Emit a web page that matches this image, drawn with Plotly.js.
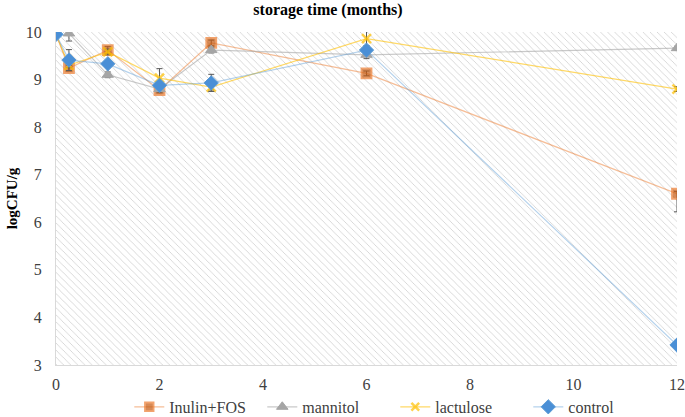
<!DOCTYPE html>
<html>
<head>
<meta charset="utf-8">
<script src="https://cdn.plot.ly/plotly-3.0.1.min.js"></script>
<style>html,body{margin:0;padding:0;background:#fff;}#chart{width:685px;height:417px;}</style>
</head>
<body>
<div id="chart"></div>
<script>
// Data (storage time in months, logCFU/g)
const monthsInulin   = [0, 0.25, 1, 2, 3, 6, 12];
const inulinFOS      = [9.95, 9.24, 9.62, 8.78, 9.77, 9.13, 6.6];
const inulinErrPlus  = [0, 0.06, 0.08, 0.06, 0.06, 0.05, 0.05];
const inulinErrMinus = [0, 0.06, 0.08, 0.06, 0.06, 0.05, 0.38];

const monthsMannitol = [0.25, 1, 2, 3, 6, 12];
const mannitol       = [9.97, 9.1, 8.8, 9.62, 9.52, 9.66];
const mannitolErr    = [0.16, 0.06, 0.06, 0.06, 0.08, 0.04];

const monthsLactulose = [0, 0.25, 1, 2, 3, 6, 12];
const lactulose       = [9.95, 9.3, 9.58, 9.03, 8.84, 9.86, 8.8];
const lactuloseErr    = [0, 0.05, 0.06, 0.2, 0.06, 0.15, 0.05];

const monthsControl = [0, 0.25, 1, 2, 3, 6, 12];
const control       = [9.95, 9.41, 9.33, 8.88, 8.93, 9.62, 3.42];
const controlErr    = [0, 0.22, 0.05, 0.06, 0.18, 0.08, 0.03];

const xTicks = [0, 2, 4, 6, 8, 10, 12];
const yTicks = [3, 4, 5, 6, 7, 8, 9, 10];
const xRange = [0, 12];
const yRange = [3, 10];

const serif = '"Liberation Serif", "Times New Roman", Times, serif';
const errStyle = {type: 'data', visible: true, color: '#595959', thickness: 1, width: 3};
function hideAtZero(xs, s) { return xs.map(v => v === 0 ? 0 : s); }

const traces = [
  {
    // hatched plot-area background
    x: [xRange[0], xRange[1], xRange[1], xRange[0], xRange[0]],
    y: [yRange[0], yRange[0], yRange[1], yRange[1], yRange[0]],
    mode: 'lines', fill: 'toself', line: {width: 0, color: 'rgba(0,0,0,0)'},
    fillcolor: 'rgba(255,255,255,1)',
    fillpattern: {shape: '\\', fgcolor: '#d3d3d3', bgcolor: '#ffffff', size: 5, solidity: 0.17},
    showlegend: false, hoverinfo: 'skip'
  },
  {
    name: 'Inulin+FOS', x: monthsInulin, y: inulinFOS, mode: 'lines+markers',
    line: {color: 'rgba(237,125,49,0.5)', width: 1.2},
    marker: {symbol: 'square', size: hideAtZero(monthsInulin, 10), color: '#C55A11', line: {color: '#ED7D31', width: 1.8}},
    error_y: Object.assign({symmetric: false, array: inulinErrPlus, arrayminus: inulinErrMinus}, errStyle)
  },
  {
    name: 'mannitol', x: monthsMannitol, y: mannitol, mode: 'lines+markers',
    line: {color: 'rgba(165,165,165,0.6)', width: 1.2},
    marker: {symbol: 'triangle-up', size: 10, color: '#A5A5A5', line: {color: '#A5A5A5', width: 1}},
    error_y: Object.assign({array: mannitolErr}, errStyle)
  },
  {
    name: 'lactulose', x: monthsLactulose, y: lactulose, mode: 'lines+markers',
    line: {color: 'rgba(255,192,0,0.6)', width: 1.2},
    marker: {symbol: 'x-thin', size: hideAtZero(monthsLactulose, 9), color: '#FFC000', line: {color: '#FFC000', width: 2.5}},
    error_y: Object.assign({array: lactuloseErr}, errStyle)
  },
  {
    name: 'control', x: monthsControl, y: control, mode: 'lines+markers',
    line: {color: 'rgba(91,155,213,0.45)', width: 1.2},
    marker: {symbol: 'diamond', size: 11, color: '#4A8FD6', line: {color: '#5B9BD5', width: 1}},
    error_y: Object.assign({array: controlErr}, errStyle)
  }
];

const layout = {
  width: 685, height: 417,
  margin: {l: 56, r: 8, t: 32, b: 52},
  font: {family: serif, size: 16, color: '#404040'},
  paper_bgcolor: '#ffffff', plot_bgcolor: '#ffffff',
  title: {text: '<b>storage time (months)</b>', xref: 'paper', x: 0.438, xanchor: 'center', y: 0.99, yanchor: 'top',
          font: {family: serif, size: 16, color: '#000'}},
  xaxis: {range: xRange, tickvals: xTicks, ticktext: xTicks.map(String), showgrid: false, zeroline: false,
          showline: true, linecolor: '#d9d9d9', linewidth: 1, ticks: 'outside', ticklen: 5, tickcolor: 'rgba(0,0,0,0)',
          tickfont: {family: serif, size: 16, color: '#404040'}, automargin: false},
  yaxis: {range: yRange, tickvals: yTicks, ticktext: yTicks.map(String), showgrid: false, zeroline: false,
          showline: true, linecolor: '#d9d9d9', linewidth: 1, ticks: 'outside', ticklen: 10, tickcolor: 'rgba(0,0,0,0)',
          tickfont: {family: serif, size: 16, color: '#404040'}, automargin: false,
          title: {text: '<b>logCFU/g</b>', standoff: 4, font: {family: serif, size: 15, color: '#000'}}},
  legend: {orientation: 'h', x: 0.118, xanchor: 'left', yref: 'container', y: 0.065, yanchor: 'top',
           entrywidth: 88, entrywidthmode: 'pixels',
           font: {family: serif, size: 16, color: '#404040'}, bgcolor: 'rgba(0,0,0,0)'},
  showlegend: true
};

Plotly.newPlot('chart', traces, layout, {displayModeBar: false, staticPlot: true});
</script>
</body>
</html>
